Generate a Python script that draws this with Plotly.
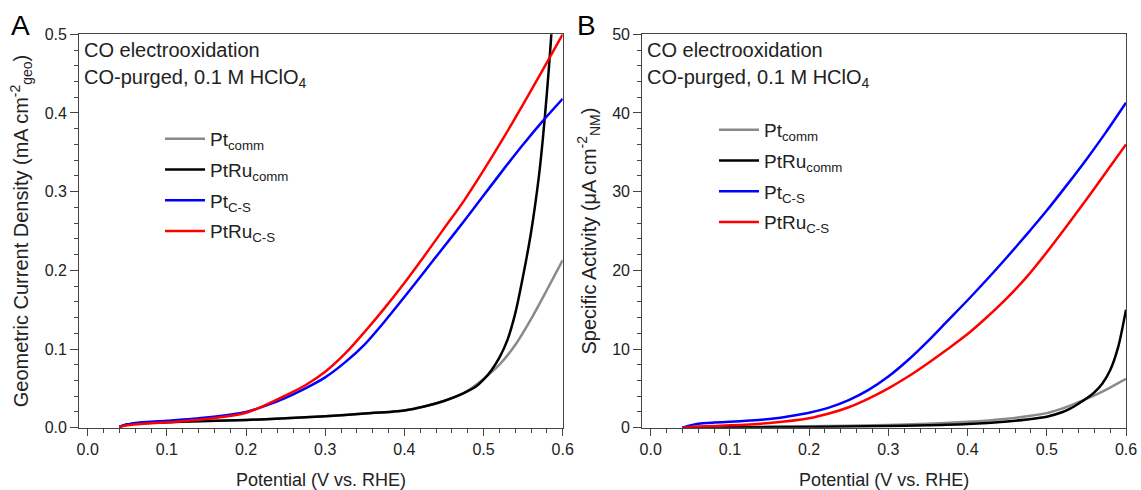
import plotly.graph_objects as go

# ---------------- Data ----------------
# Panel A: geometric current density (mA cm^-2 geo)
a_x_pt_comm = [0.04, 0.05, 0.07, 0.10, 0.15, 0.20, 0.25, 0.30, 0.35, 0.40, 0.425, 0.45, 0.475, 0.50, 0.52, 0.54, 0.56, 0.58, 0.60]
a_y_pt_comm = [0.001, 0.004, 0.006, 0.007, 0.0085, 0.0098, 0.012, 0.0145, 0.018, 0.022, 0.027, 0.034, 0.044, 0.062, 0.080, 0.105, 0.138, 0.175, 0.213]

a_x_ptru_comm = [0.04, 0.05, 0.07, 0.10, 0.15, 0.20, 0.25, 0.30, 0.35, 0.40, 0.425, 0.45, 0.475, 0.49, 0.50, 0.51, 0.52, 0.53, 0.54, 0.55, 0.56, 0.57, 0.575, 0.58, 0.585, 0.59]
a_y_ptru_comm = [0.001, 0.004, 0.006, 0.007, 0.0085, 0.0098, 0.012, 0.0145, 0.018, 0.022, 0.027, 0.034, 0.044, 0.052, 0.061, 0.073, 0.089, 0.111, 0.145, 0.193, 0.248, 0.320, 0.368, 0.425, 0.490, 0.570]

a_x_pt_cs = [0.04, 0.05, 0.06, 0.10, 0.15, 0.20, 0.225, 0.25, 0.275, 0.30, 0.325, 0.35, 0.375, 0.40, 0.425, 0.45, 0.475, 0.50, 0.525, 0.55, 0.575, 0.60]
a_y_pt_cs = [0.001, 0.004, 0.006, 0.0088, 0.013, 0.020, 0.028, 0.038, 0.050, 0.064, 0.083, 0.106, 0.135, 0.166, 0.198, 0.230, 0.262, 0.295, 0.328, 0.360, 0.390, 0.418]

a_x_ptru_cs = [0.04, 0.05, 0.07, 0.10, 0.15, 0.20, 0.225, 0.25, 0.275, 0.30, 0.325, 0.35, 0.375, 0.40, 0.425, 0.45, 0.475, 0.50, 0.525, 0.55, 0.575, 0.60]
a_y_ptru_cs = [0.001, 0.003, 0.005, 0.0068, 0.011, 0.019, 0.029, 0.041, 0.054, 0.071, 0.094, 0.122, 0.152, 0.184, 0.218, 0.253, 0.288, 0.327, 0.368, 0.411, 0.455, 0.500]

# Panel B: specific activity (uA cm^-2 NM)
b_x_pt_comm = [0.04, 0.10, 0.20, 0.30, 0.35, 0.40, 0.45, 0.475, 0.50, 0.52, 0.54, 0.56, 0.58, 0.60]
b_y_pt_comm = [0.0, 0.08, 0.18, 0.35, 0.50, 0.75, 1.15, 1.45, 1.85, 2.45, 3.25, 4.10, 5.10, 6.20]

b_x_ptru_comm = [0.04, 0.10, 0.20, 0.30, 0.35, 0.40, 0.45, 0.475, 0.50, 0.52, 0.53, 0.54, 0.55, 0.56, 0.57, 0.58, 0.59, 0.60]
b_y_ptru_comm = [0.0, 0.05, 0.10, 0.22, 0.32, 0.48, 0.80, 1.05, 1.40, 2.00, 2.45, 3.05, 3.70, 4.50, 5.60, 7.30, 10.2, 15.0]

b_x_pt_cs = [0.04, 0.05, 0.06, 0.08, 0.10, 0.125, 0.15, 0.175, 0.20, 0.225, 0.25, 0.275, 0.30, 0.325, 0.35, 0.375, 0.40, 0.425, 0.45, 0.475, 0.50, 0.525, 0.55, 0.575, 0.60]
b_y_pt_cs = [0.0, 0.30, 0.50, 0.65, 0.75, 0.90, 1.10, 1.45, 1.90, 2.55, 3.50, 4.80, 6.50, 8.60, 11.0, 13.6, 16.2, 18.9, 21.7, 24.6, 27.6, 30.8, 34.1, 37.6, 41.3]

b_x_ptru_cs = [0.04, 0.05, 0.06, 0.10, 0.15, 0.20, 0.225, 0.25, 0.275, 0.30, 0.325, 0.35, 0.375, 0.40, 0.425, 0.45, 0.475, 0.50, 0.525, 0.55, 0.575, 0.60]
b_y_ptru_cs = [0.0, 0.10, 0.15, 0.30, 0.60, 1.20, 1.80, 2.60, 3.70, 5.00, 6.50, 8.20, 10.0, 11.9, 14.1, 16.5, 19.2, 22.3, 25.6, 29.0, 32.5, 36.0]

names = ["Pt<sub>comm</sub>", "PtRu<sub>comm</sub>", "Pt<sub>C-S</sub>", "PtRu<sub>C-S</sub>"]
colors = ["#8a8a8a", "#000000", "#0000ff", "#ff0000"]

x_ticks = [0.0, 0.1, 0.2, 0.3, 0.4, 0.5, 0.6]

FONT = "Liberation Sans, Arial, sans-serif"
TXT = "#222222"
W, H = 1141, 490

fig = go.Figure()

series_a = [(a_x_pt_comm, a_y_pt_comm), (a_x_ptru_comm, a_y_ptru_comm),
            (a_x_pt_cs, a_y_pt_cs), (a_x_ptru_cs, a_y_ptru_cs)]
series_b = [(b_x_pt_comm, b_y_pt_comm), (b_x_ptru_comm, b_y_ptru_comm),
            (b_x_pt_cs, b_y_pt_cs), (b_x_ptru_cs, b_y_ptru_cs)]

for i, (xs, ys) in enumerate(series_a):
    fig.add_trace(go.Scatter(x=xs, y=ys, mode="lines", name=names[i],
                             line=dict(color=colors[i], width=2.5, shape="spline", smoothing=0.8),
                             xaxis="x", yaxis="y", legend="legend", legendgroup="a%d" % i))
for i, (xs, ys) in enumerate(series_b):
    fig.add_trace(go.Scatter(x=xs, y=ys, mode="lines", name=names[i],
                             line=dict(color=colors[i], width=2.5, shape="spline", smoothing=0.8),
                             xaxis="x2", yaxis="y2", legend="legend2", legendgroup="b%d" % i))

def px(v):
    return v / W

def py(v):
    return 1 - v / H

ydom = [py(427.7), py(34.3)]
axis_common = dict(showline=True, linecolor="#444444", linewidth=1.3, mirror=True,
                   ticks="outside", tickcolor="#444444", tickwidth=1.3,
                   showgrid=False, zeroline=False, automargin=False,
                   tickfont=dict(family=FONT, size=16, color=TXT))

xcommon = dict(axis_common, range=[-0.0106, 0.6], tickvals=x_ticks, tickformat=".1f", ticklen=7,
               minor=dict(dtick=0.02, tick0=0, ticks="outside", ticklen=4, tickcolor="#444444", tickwidth=1.2, showgrid=False),
               title=dict(text="Potential (V vs. RHE)", font=dict(family=FONT, size=18, color=TXT), standoff=22))

fig.update_layout(
    width=W, height=H,
    margin=dict(l=0, r=0, t=0, b=0, autoexpand=False),
    paper_bgcolor="white", plot_bgcolor="white",
    xaxis=dict(xcommon, domain=[px(79.3), px(562.7)], anchor="y"),
    xaxis2=dict(xcommon, domain=[px(642.3), px(1126)], anchor="y2"),
    yaxis=dict(axis_common, domain=ydom, anchor="x", range=[0, 0.5], dtick=0.1, tickformat=".1f", ticklen=8,
               minor=dict(dtick=0.02, ticks="outside", ticklen=4, tickcolor="#444444", tickwidth=1.2, showgrid=False),
               title=dict(text="Geometric Current Density (mA cm<sup>-2</sup><sub>geo</sub>)",
                          font=dict(family=FONT, size=20, color=TXT), standoff=10)),
    yaxis2=dict(axis_common, domain=ydom, anchor="x2", range=[0, 50], dtick=10, ticklen=8,
                minor=dict(dtick=2, ticks="outside", ticklen=4, tickcolor="#444444", tickwidth=1.2, showgrid=False),
                title=dict(text="Specific Activity (μA cm<sup>-2</sup><sub>NM</sub>)",
                           font=dict(family=FONT, size=20, color=TXT), standoff=10)),
    legend=dict(x=px(160), y=py(120), xanchor="left", yanchor="top", bgcolor="rgba(0,0,0,0)",
                font=dict(family=FONT, size=19, color=TXT), tracegroupgap=3, itemwidth=40),
    legend2=dict(x=px(714), y=py(111), xanchor="left", yanchor="top", bgcolor="rgba(0,0,0,0)",
                 font=dict(family=FONT, size=19, color=TXT), tracegroupgap=3, itemwidth=40),
    showlegend=True,
)

ann_font = dict(family=FONT, size=20, color=TXT)
annotations = [
    dict(text="A", x=px(20), y=py(26), xanchor="center", yanchor="middle", font=dict(family=FONT, size=28, color="#000000")),
    dict(text="B", x=px(586), y=py(26), xanchor="center", yanchor="middle", font=dict(family=FONT, size=28, color="#000000")),
    dict(text="CO electrooxidation", x=px(82), y=py(50), xanchor="left", yanchor="middle", font=ann_font),
    dict(text="CO-purged, 0.1 M HClO<sub>4</sub>", x=px(82), y=py(78), xanchor="left", yanchor="middle", font=ann_font),
    dict(text="CO electrooxidation", x=px(645), y=py(50), xanchor="left", yanchor="middle", font=ann_font),
    dict(text="CO-purged, 0.1 M HClO<sub>4</sub>", x=px(645), y=py(78), xanchor="left", yanchor="middle", font=ann_font),
]
for a in annotations:
    a.update(xref="paper", yref="paper", showarrow=False)
fig.update_layout(annotations=annotations)

fig.write_html("out.html")
